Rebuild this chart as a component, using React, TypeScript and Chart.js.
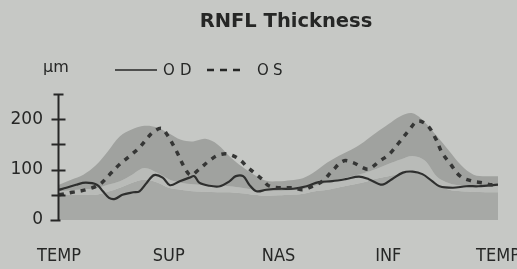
import React, { useEffect, useRef } from "react";
import { Chart, registerables } from "chart.js";

Chart.register(...registerables);

// Sector labels along the TSNIT circle (angle in degrees)
const xTickLabels = ["TEMP", "SUP", "NAS", "INF", "TEMP"];
const yTickValues = [0, 50, 100, 150, 200, 250];
const yTickLabels = ["0", "", "100", "", "200", ""];

// Normative bands on a common angle grid
const bandAngles = [0, 10, 20, 30, 40, 50, 60, 70, 80, 90, 100, 110, 120, 130, 140, 150, 160, 170, 180, 190, 200, 210, 220, 230, 240, 250, 260, 270, 280, 290, 300, 310, 320, 330, 340, 350, 360];
const bandLow = [50, 50, 50, 50, 56, 64, 74, 80, 75, 64, 60, 57, 56, 55, 55, 53, 50, 48, 49, 50, 52, 57, 60, 65, 70, 75, 82, 87, 92, 95, 88, 70, 60, 57, 56, 55, 55];
const bandMid = [57, 59, 61, 63, 70, 77, 90, 103, 94, 81, 74, 71, 69, 68, 67, 64, 60, 57, 58, 59, 61, 68, 74, 81, 87, 93, 101, 111, 120, 127, 118, 86, 73, 68, 67, 67, 67];
const bandHigh = [70, 80, 90, 108, 136, 166, 180, 187, 184, 172, 159, 156, 161, 150, 126, 106, 90, 78, 77, 79, 83, 96, 114, 128, 140, 155, 173, 190, 206, 212, 194, 166, 137, 108, 90, 87, 87];

// OD (solid)
const odAngles = [0, 6, 14, 22, 31, 36, 41, 46, 52, 61, 66, 72, 78, 85, 91, 99, 107, 111, 115, 123, 132, 140, 145, 151, 156, 162, 170, 181, 192, 203, 213, 224, 235, 246, 254, 265, 273, 282, 290, 298, 306, 312, 323, 334, 344, 360];
const odValues = [60, 64, 70, 74, 70, 57, 44, 42, 50, 55, 57, 74, 89, 84, 69, 77, 84, 87, 74, 68, 67, 77, 87, 87, 70, 57, 60, 62, 62, 67, 75, 77, 81, 86, 81, 70, 81, 94, 96, 91, 77, 67, 64, 67, 67, 70];

// OS (dashed)
const osAngles = [0, 11, 22, 33, 41, 50, 59, 66, 73, 77, 84, 89, 96, 103, 108, 115, 123, 130, 138, 147, 155, 162, 167, 172, 181, 192, 200, 208, 216, 224, 233, 241, 249, 254, 263, 271, 279, 287, 294, 302, 309, 314, 321, 329, 339, 347, 355, 360];
const osValues = [50, 55, 60, 70, 89, 111, 129, 144, 164, 174, 182, 168, 138, 104, 89, 101, 117, 128, 131, 122, 104, 90, 80, 68, 64, 64, 60, 67, 77, 97, 117, 114, 104, 101, 117, 131, 154, 178, 196, 188, 161, 134, 111, 87, 77, 74, 70, 74];

const BG = "#c6c8c5";
const INK = "#262726";

const pts = (xs: number[], ys: number[]) => xs.map((x, i) => ({ x, y: ys[i] }));

const overlay = {
  id: "overlay",
  afterDatasetsDraw(chart: any) {
    const { ctx } = chart;
    const ys = chart.scales.y;
    const ax = chart.chartArea.left - 0.5;
    ctx.save();
    ctx.strokeStyle = INK;
    ctx.lineWidth = 2;
    ctx.beginPath();
    ctx.moveTo(ax, ys.getPixelForValue(250));
    ctx.lineTo(ax, ys.getPixelForValue(0));
    ctx.stroke();
    yTickValues.forEach((v) => {
      const py = Math.round(ys.getPixelForValue(v)) + 0.5;
      let l = ax - 7, r = ax + 7;
      if (v === 0) { l = ax - 8; r = ax + 2; }
      if (v === 250) { l = ax - 5; r = ax + 5; }
      ctx.beginPath();
      ctx.moveTo(l, py);
      ctx.lineTo(r, py);
      ctx.stroke();
    });
    // title
    ctx.fillStyle = INK;
    ctx.textAlign = "center";
    ctx.textBaseline = "alphabetic";
    ctx.font = 'bold 19.5px "DejaVu Sans", sans-serif';
    ctx.fillText("RNFL Thickness", 286, 27);
    // unit
    ctx.textAlign = "left";
    ctx.font = '16px "DejaVu Sans", sans-serif';
    ctx.fillText("µm", 43, 72);
    // legend
    ctx.lineWidth = 1.6;
    ctx.beginPath();
    ctx.moveTo(115, 70);
    ctx.lineTo(157, 70);
    ctx.stroke();
    ctx.lineWidth = 2.5;
    [[207, 214], [220, 227], [233, 240]].forEach(([a, b]) => {
      ctx.beginPath();
      ctx.moveTo(a, 70);
      ctx.lineTo(b, 70);
      ctx.stroke();
    });
    ctx.font = '15px "DejaVu Sans", sans-serif';
    ctx.fillText("O", 163, 75);
    ctx.fillText("D", 180, 75);
    ctx.fillText("O", 257, 75);
    ctx.fillText("S", 273, 75);
    ctx.restore();
  },
};

export default function App() {
  const ref = useRef<HTMLCanvasElement | null>(null);
  useEffect(() => {
    if (!ref.current) return;
    const chart = new Chart(ref.current, {
      type: "line",
      data: {
        datasets: [
          { data: pts(bandAngles, bandLow), order: 5, fill: "origin", backgroundColor: "#a7a9a6", borderWidth: 0, pointRadius: 0, tension: 0.35 },
          { data: pts(bandAngles, bandMid), order: 4, fill: "-1", backgroundColor: "#b9bbb8", borderWidth: 0, pointRadius: 0, tension: 0.35 },
          { data: pts(bandAngles, bandHigh), order: 3, fill: "-1", backgroundColor: "#a0a29f", borderWidth: 0, pointRadius: 0, tension: 0.35 },
          { label: "OD", data: pts(odAngles, odValues), order: 1, fill: false, borderColor: "#2e2f2e", borderWidth: 2.2, pointRadius: 0, tension: 0.35 },
          { label: "OS", data: pts(osAngles, osValues), order: 0, fill: false, borderColor: "#353635", borderWidth: 3.5, borderDash: [5, 6], pointRadius: 0, tension: 0.35 },
        ],
      },
      options: {
        responsive: false,
        animation: false,
        layout: { padding: { top: 94, right: 19, bottom: 0, left: 0 } },
        plugins: { legend: { display: false }, tooltip: { enabled: false }, title: { display: false } },
        scales: {
          x: {
            type: "linear",
            min: 0,
            max: 360,
            grid: { display: false, drawTicks: false, tickLength: 0 },
            border: { display: false },
            ticks: {
              stepSize: 90,
              autoSkip: false,
              maxRotation: 0,
              minRotation: 0,
              padding: 26,
              color: INK,
              font: { family: '"Liberation Sans Narrow", "DejaVu Sans Condensed", Arial, sans-serif', size: 18 },
              callback: (v: any) => xTickLabels[Math.round(Number(v) / 90)] ?? "",
            },
            afterFit: (s: any) => { s.height = 49; s.paddingLeft = 0; s.paddingRight = 0; },
          },
          y: {
            min: 0,
            max: 250,
            grid: { display: false, drawTicks: false, tickLength: 0 },
            border: { display: false },
            ticks: {
              stepSize: 50,
              padding: 16,
              color: INK,
              font: { family: '"DejaVu Sans", sans-serif', size: 17 },
              callback: (v: any) => yTickLabels[yTickValues.indexOf(Number(v))] ?? "",
            },
            afterFit: (s: any) => { s.width = 59; s.paddingTop = 0; s.paddingBottom = 0; },
          },
        },
      },
      plugins: [overlay],
    });
    return () => chart.destroy();
  }, []);
  return (
    <div style={{ position: "fixed", left: 0, top: 0, width: 517, height: 269, background: BG, overflow: "hidden" }}>
      <canvas ref={ref} width={517} height={269} style={{ display: "block", width: 517, height: 269 }} />
    </div>
  );
}
